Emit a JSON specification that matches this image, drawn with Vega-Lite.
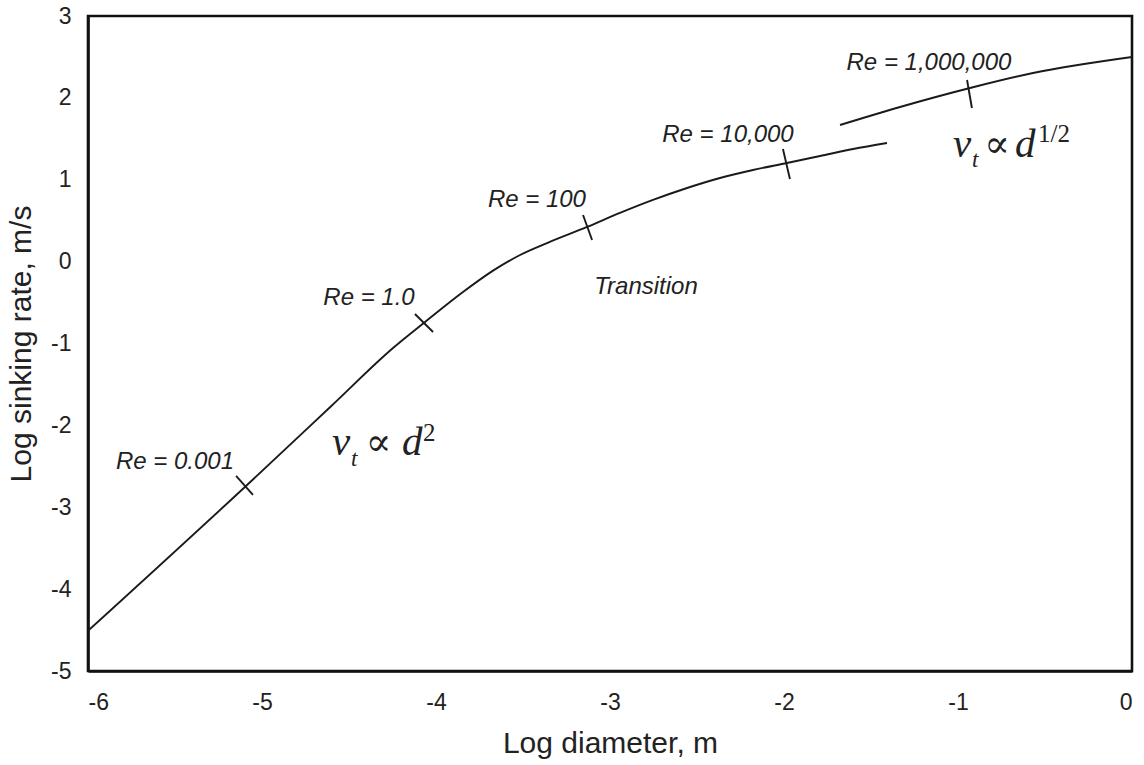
{
  "$schema": "https://vega.github.io/schema/vega-lite/v6.json",
  "width": 1044,
  "height": 655,
  "autosize": {"type": "none"},
  "padding": {"left": 88, "top": 16, "right": 12, "bottom": 94},
  "background": "white",
  "config": {
    "view": {"stroke": "#111", "strokeWidth": 2.6},
    "font": "Liberation Sans"
  },
  "datasets": {
    "lines": [
      {"g": "main", "x": -6.0, "y": -4.51},
      {"g": "main", "x": -5.092, "y": -2.74},
      {"g": "main", "x": -4.6, "y": -1.76},
      {"g": "main", "x": -4.247, "y": -1.055},
      {"g": "main", "x": -4.063, "y": -0.737},
      {"g": "main", "x": -3.845, "y": -0.371},
      {"g": "main", "x": -3.672, "y": -0.11},
      {"g": "main", "x": -3.517, "y": 0.081},
      {"g": "main", "x": -3.362, "y": 0.227},
      {"g": "main", "x": -3.132, "y": 0.423},
      {"g": "main", "x": -2.943, "y": 0.594},
      {"g": "main", "x": -2.753, "y": 0.753},
      {"g": "main", "x": -2.557, "y": 0.899},
      {"g": "main", "x": -2.368, "y": 1.021},
      {"g": "main", "x": -2.178, "y": 1.119},
      {"g": "main", "x": -1.983, "y": 1.205},
      {"g": "main", "x": -1.793, "y": 1.29},
      {"g": "main", "x": -1.603, "y": 1.376},
      {"g": "main", "x": -1.408, "y": 1.449},
      {"g": "upper", "x": -1.678, "y": 1.669},
      {"g": "upper", "x": -1.333, "y": 1.889},
      {"g": "upper", "x": -0.931, "y": 2.121},
      {"g": "upper", "x": -0.569, "y": 2.304},
      {"g": "upper", "x": 0.0, "y": 2.5},
      {"g": "t1", "x": -5.149, "y": -2.618},
      {"g": "t1", "x": -5.052, "y": -2.85},
      {"g": "t2", "x": -4.121, "y": -0.64},
      {"g": "t2", "x": -4.017, "y": -0.86},
      {"g": "t3", "x": -3.155, "y": 0.569},
      {"g": "t3", "x": -3.103, "y": 0.264},
      {"g": "t4", "x": -2.006, "y": 1.376},
      {"g": "t4", "x": -1.966, "y": 1.009},
      {"g": "t5", "x": -0.948, "y": 2.218},
      {"g": "t5", "x": -0.92, "y": 1.876}
    ],
    "labels": [
      {"text": "Re = 0.001", "x": -5.5, "y": -2.447},
      {"text": "Re = 1.0", "x": -4.385, "y": -0.444},
      {"text": "Re = 100", "x": -3.42, "y": 0.753},
      {"text": "Re = 10,000", "x": -2.322, "y": 1.547},
      {"text": "Re = 1,000,000", "x": -1.167, "y": 2.426},
      {"text": "Transition", "x": -2.793, "y": -0.31}
    ],
    "mathBig": [
      {"text": "v", "x": -4.598, "y": -2.362},
      {"text": "d", "x": -4.195, "y": -2.362},
      {"text": "v", "x": -1.029, "y": 1.278},
      {"text": "d", "x": -0.672, "y": 1.278}
    ],
    "mathSym": [
      {"text": "∝", "x": -4.33, "y": -2.362},
      {"text": "∝", "x": -0.775, "y": 1.278}
    ],
    "mathSub": [
      {"text": "t", "x": -4.489, "y": -2.496},
      {"text": "t", "x": -0.92, "y": 1.156}
    ],
    "mathSup": [
      {"text": "2", "x": -4.075, "y": -2.19},
      {"text": "1/2", "x": -0.54, "y": 1.46}
    ]
  },
  "layer": [
    {
      "data": {"name": "lines"},
      "mark": {"type": "line", "color": "#1a1a1a", "strokeWidth": 1.9, "clip": true, "interpolate": "monotone"},
      "encoding": {
        "x": {
          "field": "x", "type": "quantitative",
          "scale": {"domain": [-6, 0], "nice": false, "zero": false},
          "axis": {
            "values": [-6, -5, -4, -3, -2, -1, 0],
            "labelExpr": "toString(datum.value)",
            "title": "Log diameter, m",
            "grid": false,
            "domainColor": "#111", "domainWidth": 2.6,
            "tickColor": "#111", "tickWidth": 2.5, "tickSize": 0,
            "labelFontSize": 23, "labelColor": "#222", "labelPadding": 20,
            "titleFontSize": 30, "titleFontWeight": "normal", "titleColor": "#222", "titlePadding": 14
          }
        },
        "y": {
          "field": "y", "type": "quantitative",
          "scale": {"domain": [-5, 3], "nice": false, "zero": false},
          "axis": {
            "values": [-5, -4, -3, -2, -1, 0, 1, 2, 3],
            "labelExpr": "toString(datum.value)",
            "title": "Log sinking rate, m/s",
            "grid": false,
            "domainColor": "#111", "domainWidth": 2.6,
            "tickColor": "#111", "tickWidth": 2.5, "tickSize": 0,
            "labelFontSize": 23, "labelColor": "#222", "labelPadding": 17,
            "titleFontSize": 30, "titleFontWeight": "normal", "titleColor": "#222", "titlePadding": 14
          }
        },
        "detail": {"field": "g"}
      }
    },
    {
      "data": {"name": "labels"},
      "mark": {"type": "text", "font": "Liberation Sans", "fontStyle": "italic", "fontSize": 24, "color": "#222", "align": "center", "baseline": "middle"},
      "encoding": {
        "x": {"field": "x", "type": "quantitative"},
        "y": {"field": "y", "type": "quantitative"},
        "text": {"field": "text"}
      }
    },
    {
      "data": {"name": "mathBig"},
      "mark": {"type": "text", "font": "Liberation Serif", "fontStyle": "italic", "fontSize": 41, "color": "#222", "align": "left", "baseline": "alphabetic"},
      "encoding": {
        "x": {"field": "x", "type": "quantitative"},
        "y": {"field": "y", "type": "quantitative"},
        "text": {"field": "text"}
      }
    },
    {
      "data": {"name": "mathSym"},
      "mark": {"type": "text", "font": "DejaVu Serif", "fontSize": 38, "color": "#222", "align": "center", "baseline": "alphabetic"},
      "encoding": {
        "x": {"field": "x", "type": "quantitative"},
        "y": {"field": "y", "type": "quantitative"},
        "text": {"field": "text"}
      }
    },
    {
      "data": {"name": "mathSub"},
      "mark": {"type": "text", "font": "Liberation Serif", "fontStyle": "italic", "fontSize": 23, "color": "#222", "align": "left", "baseline": "alphabetic"},
      "encoding": {
        "x": {"field": "x", "type": "quantitative"},
        "y": {"field": "y", "type": "quantitative"},
        "text": {"field": "text"}
      }
    },
    {
      "data": {"name": "mathSup"},
      "mark": {"type": "text", "font": "Liberation Serif", "fontSize": 25, "color": "#222", "align": "left", "baseline": "alphabetic"},
      "encoding": {
        "x": {"field": "x", "type": "quantitative"},
        "y": {"field": "y", "type": "quantitative"},
        "text": {"field": "text"}
      }
    }
  ]
}
